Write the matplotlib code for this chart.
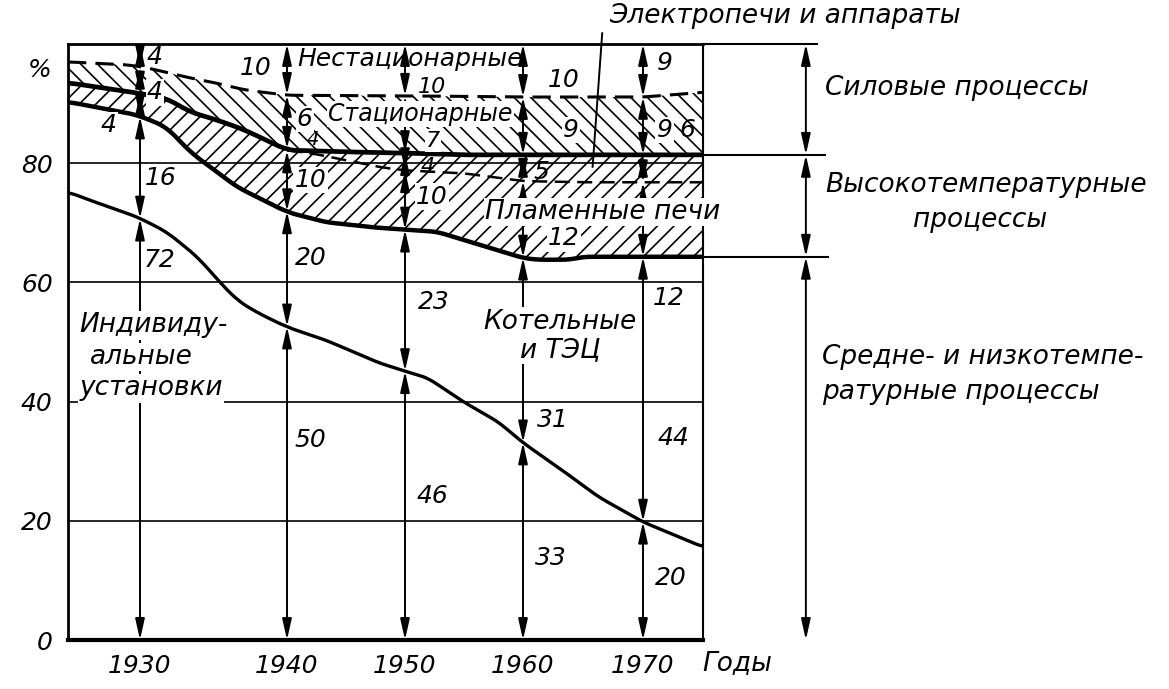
import numpy as np
import matplotlib.pyplot as plt

plt.rcParams['font.family'] = ['DejaVu Sans']
plt.rcParams['font.style'] = 'italic'
plt.rcParams['hatch.linewidth'] = 1.2

# shares by year, %
years = [1930, 1940, 1950, 1960, 1970]
individual = [72, 50, 46, 33, 20]
boilers = [16, 20, 23, 31, 44]
flame = [4, 10, 10, 12, 12]
electric = [0, 4, 4, 5, 6]
stationary = [4, 6, 7, 9, 9]
nonstationary = [4, 10, 10, 10, 9]

# boundary curves as drawn (year, %)
indiv_x = [1925, 1926.5, 1929.8, 1931.8, 1933.9, 1935.3, 1936.6, 1938.0, 1940, 1943.3,
           1947.8, 1950, 1951.9, 1955, 1957.9, 1960, 1963.6, 1966.3, 1970, 1975]
indiv_y = [75.2, 73.8, 71.0, 68.5, 64.3, 60.4, 57.0, 54.9, 52.5, 50.3,
           46.5, 45.1, 44.0, 39.9, 36.6, 33.1, 28.0, 24.0, 19.8, 15.6]
boiler_x = [1925, 1929.8, 1931.8, 1933.4, 1936.6, 1940, 1943.3, 1947.5, 1952.7, 1957,
            1960, 1961.2, 1963.9, 1965, 1975]
boiler_y = [90.3, 88.1, 86.1, 81.9, 76.0, 71.8, 70.1, 69.2, 68.5, 65.9,
            64.1, 63.8, 63.8, 64.3, 64.3]
thick_x = [1925, 1929.5, 1931.8, 1933.4, 1935.3, 1937.1, 1940, 1945, 1950, 1955, 1975]
thick_y = [93.5, 91.9, 90.9, 88.6, 87.2, 85.6, 82.2, 81.9, 81.7, 81.4, 81.4]
flametop_x = [1940, 1942.5, 1945, 1948, 1950, 1955, 1960, 1965, 1975]
flametop_y = [82.2, 81.5, 80.5, 79.3, 78.8, 78.3, 77.0, 76.8, 76.8]
stat_x = [1925, 1929.2, 1930.5, 1933.4, 1935.1, 1937.1, 1940, 1950, 1960, 1970, 1975]
stat_y = [97.0, 96.5, 96.0, 94.3, 93.5, 92.3, 91.4, 91.3, 91.1, 91.1, 91.9]

# where the value labels sit (year, %)
pos_individual = [(1931.3, 63.8), (1942, 33.6), (1952.3, 24.2), (1962.3, 13.8), (1972.3, 10.4)]
pos_boilers = [(1931.4, 77.6), (1942, 64.1), (1952.4, 56.7), (1962.5, 36.9), (1972.5, 33.9)]
pos_flame = [(1927.8, 86.4), (1942, 77.2), (1952.3, 74.4), (1963.4, 67.4), (1972.1, 57.4)]
pos_electric = [None, (1942.2, 84.0), (1951.9, 79.3), (1961.5, 78.5), (1973.7, 85.6)]
pos_stationary = [(1931, 91.9), (1941.5, 87.4), (1952.4, 83.8), (1964, 85.6), (1971.8, 85.6)]
pos_nonstat = [(1931, 97.8), (1937.9, 96.0), (1952.3, 92.8), (1963.4, 94.0), (1971.8, 96.8)]

W, H = 1169, 689
fig = plt.figure(figsize=(W / 100, H / 100), dpi=100)
ax = fig.add_axes([68 / W, 1 - 640 / H, 635 / W, 596 / H])

yr_knots = [1925, 1930, 1940, 1950, 1960, 1970, 1975]
px_knots = [68, 140, 287, 405, 523, 643, 703]
ax.set_xscale('function', functions=(lambda x: np.interp(x, yr_knots, px_knots),
                                      lambda p: np.interp(p, px_knots, yr_knots)))
ax.set_xlim(1925, 1975)
ax.set_ylim(0, 100)

xs = np.linspace(1925, 1975, 501)


def curve(cx, cy):
    y = np.interp(xs, cx, cy)
    k = np.ones(15) / 15
    return np.convolve(np.pad(y, 7, mode='edge'), k, mode='valid')


c_ind = curve(indiv_x, indiv_y)
c_boil = curve(boiler_x, boiler_y)
c_thick = curve(thick_x, thick_y)
c_flame = np.where(xs < 1940, c_thick, curve(flametop_x, flametop_y))
c_stat = curve(stat_x, stat_y)

ax.fill_between(xs, c_boil, c_thick, facecolor='none', edgecolor='black', hatch='//', lw=0, zorder=1)
ax.fill_between(xs, c_thick, c_stat, facecolor='none', edgecolor='black', hatch='\\\\', lw=0, zorder=1)

for g in [20, 40, 60, 80]:
    ax.axhline(g, color='black', lw=1.2, zorder=1.5)

ax.plot(xs, c_ind, color='black', lw=2.4, zorder=3)
ax.plot(xs, c_boil, color='black', lw=3.2, zorder=3)
ax.plot(xs[xs >= 1940], c_flame[xs >= 1940], color='black', lw=1.8, ls=(0, (6, 3)), zorder=3)
ax.plot(xs, c_thick, color='black', lw=3.4, zorder=3)
ax.plot(xs, c_stat, color='black', lw=2.2, ls=(0, (6, 3)), zorder=3)

arrow = dict(arrowstyle='<|-|>,head_length=0.9,head_width=0.2', color='black', lw=1.4,
             shrinkA=0, shrinkB=0, mutation_scale=14)
for yr in years:
    levels = [0] + [np.interp(yr, xs, c) for c in (c_ind, c_boil, c_flame, c_thick, c_stat)] + [100]
    for lo, hi in zip(levels[:-1], levels[1:]):
        if hi - lo > 0.8:
            ax.annotate('', xy=(yr, lo), xytext=(yr, hi), arrowprops=arrow, zorder=4)

white = dict(boxstyle='square,pad=0.05', fc='white', ec='none')
series = [(individual, pos_individual, False), (boilers, pos_boilers, False),
          (flame, pos_flame, True), (electric, pos_electric, False),
          (stationary, pos_stationary, True), (nonstationary, pos_nonstat, False)]
for vals, poss, boxed in series:
    for v, p in zip(vals, poss):
        if p is None or v == 0:
            continue
        size = 18
        if vals is electric and p[0] < 1945:
            size = 14
        elif 1950 < p[0] < 1953 and 78 < p[1] < 95:
            size = 16
        ax.text(p[0], p[1], str(v), fontsize=size, ha='center', va='center', zorder=6,
                bbox=white if boxed else None)

label_kw = dict(fontsize=19, va='center', zorder=5)
ax.text(1940.9, 97.5, 'Нестационарные', ha='left', **dict(label_kw, fontsize=18))
ax.text(1943.5, 88.3, 'Стационарные', ha='left', bbox=white,
        **dict(label_kw, fontsize=17))
ax.text(1956.8, 71.8, 'Пламенные печи', ha='left', bbox=white, clip_on=False, **label_kw)
ax.text(1963.1, 53.4, 'Котельные', ha='center', bbox=white, **label_kw)
ax.text(1963.1, 48.7, 'и ТЭЦ', ha='center', bbox=white, **label_kw)
ax.text(1925.8, 52.8, 'Индивиду-', ha='left', bbox=white, **label_kw)
ax.text(1926.5, 47.5, 'альные', ha='left', bbox=white, **label_kw)
ax.text(1925.8, 42.2, 'установки', ha='left', bbox=white, **label_kw)

# leader to the electric furnaces band
ax.plot([1966.6, 1965.8], [101.8, 79.4], color='black', lw=1.4, clip_on=False, zorder=4)

# right-hand grouping dimension
yt = ax.get_yaxis_transform()
groups = [0, 64.3, 81.4, 100]
for lo, hi in zip(groups[:-1], groups[1:]):
    ax.annotate('', xy=(1.162, lo), xytext=(1.162, hi), xycoords=yt, textcoords=yt,
                arrowprops=arrow, annotation_clip=False)
for lvl, end in [(100, 1.18), (81.4, 1.192), (64.3, 1.197)]:
    ax.plot([1, end], [lvl, lvl], transform=yt, color='black', lw=1.5, clip_on=False)

for side, lw in [('left', 2), ('bottom', 3), ('top', 2), ('right', 1.5)]:
    ax.spines[side].set_linewidth(lw)

ax.set_yticks([0, 20, 40, 60, 80])
ax.set_yticklabels(['0', '20', '40', '60', '80'])
ax.set_xticks(years)
ax.set_xticklabels([str(y) for y in years])
ax.tick_params(axis='y', length=0, pad=11, labelsize=18)
ax.tick_params(axis='x', length=0, pad=10, labelsize=18)
ax.text(-0.044, 95.6, '%', transform=yt, fontsize=18, ha='center', va='center')


def ftext(px, py, s, **kw):
    fig.text(px / W, 1 - py / H, s, fontsize=19, va='center', **kw)


ftext(737, 663, 'Годы', ha='center')
ftext(785, 16, 'Электропечи и аппараты', ha='center')
ftext(825, 88, 'Силовые процессы', ha='left')
ftext(825, 185, 'Высокотемпературные', ha='left')
ftext(980, 220, 'процессы', ha='center')
ftext(822, 357, 'Средне- и низкотемпе-', ha='left')
ftext(822, 392, 'ратурные процессы', ha='left')

fig.savefig('out.png', dpi=100)
